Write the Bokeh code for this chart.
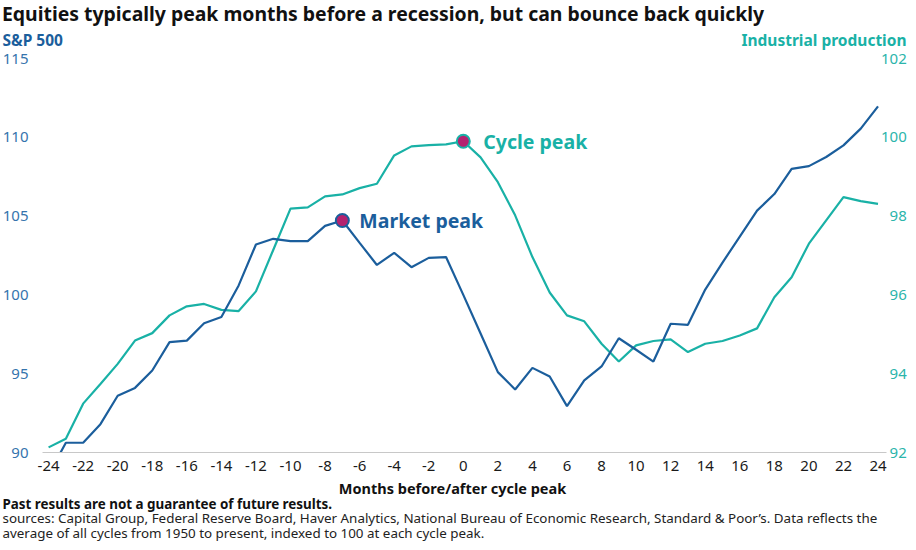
from bokeh.plotting import figure
from bokeh.models import Range1d, LinearAxis, Label, FixedTicker, BoxAnnotation
from bokeh.embed import file_html
from bokeh.resources import INLINE

# ---------------- data ----------------
months = list(range(-24, 25))
sp500 = [88.6, 90.62, 90.62, 91.8, 93.6, 94.1, 95.2, 97.0, 97.1, 98.2, 98.6, 100.6,
         103.2, 103.56, 103.41, 103.41, 104.38, 104.72, 103.3, 101.9, 102.67, 101.76, 102.35, 102.4,
         100.0,
         97.55, 95.1, 94.0, 95.37, 94.82, 92.94, 94.57, 95.46, 97.25, 96.52, 95.77, 98.17,
         98.10, 100.34, 102.05, 103.7, 105.35, 106.4, 108.0, 108.17, 108.75, 109.49, 110.55, 111.96]
ind_prod = [92.13, 92.35, 93.24, 93.74, 94.25, 94.84, 95.03, 95.48, 95.71, 95.77, 95.62, 95.59,
            96.09, 97.14, 98.19, 98.22, 98.50, 98.55, 98.71, 98.82, 99.54, 99.77, 99.80, 99.82,
            99.9,
            99.49, 98.86, 98.02, 96.96, 96.06, 95.48, 95.33, 94.76, 94.31, 94.72, 94.83, 94.87,
            94.55, 94.76, 94.83, 94.97, 95.15, 95.94, 96.45, 97.30, 97.89, 98.48, 98.38, 98.31]
x_ticks = list(range(-24, 25, 2))
x_tick_labels = [str(t) for t in x_ticks]
sp_ticks = [90, 95, 100, 105, 110, 115]
ip_ticks = [92, 94, 96, 98, 100, 102]
market_peak_month = -7
cycle_peak_month = 0

title_text = "Equities typically peak months before a recession, but can bounce back quickly"
left_title = "S&P 500"
right_title = "Industrial production"
x_title = "Months before/after cycle peak"
note1 = "Past results are not a guarantee of future results."
note2 = ("sources: Capital Group, Federal Reserve Board, Haver Analytics, National Bureau of "
         "Economic Research, Standard & Poor\u2019s. Data reflects the")
note3 = "average of all cycles from 1950 to present, indexed to 100 at each cycle peak."

# ---------------- style / layout (pixels) ----------------
BLUE = "#1b5e9c"
BLUE_TICK = "#3574ad"
TEAL = "#19b1a6"
TEAL_TICK = "#2cb5ab"
MAG = "#b3226f"
FONT = "Noto Sans"
W, H = 908, 542
PX0, PXM = 462.8, 17.28               # pixel x of month 0, pixels per month
PY_BASE, PYL, PYR = 452, 15.76, 39.4  # pixel y of axis base, px per S&P unit, px per IP unit
FRAME_L, FRAME_R = 42, 886            # extent of the base line
TICK_PX = 15
DIGIT_W = 0.572 * TICK_PX             # width of one digit in the tick font


def px_to_month(px):
    return (px - PX0) / PXM


p = figure(width=W, height=H, output_backend="svg", toolbar_location=None,
           x_range=Range1d(px_to_month(0), px_to_month(W)),
           y_range=Range1d(sp_ticks[0] - (H - PY_BASE) / PYL, sp_ticks[0] + PY_BASE / PYL),
           min_border=0, min_border_left=0, min_border_right=0,
           min_border_top=0, min_border_bottom=0)
p.extra_y_ranges = {"ip": Range1d(ip_ticks[0] - (H - PY_BASE) / PYR, ip_ticks[0] + PY_BASE / PYR)}
p.outline_line_color = None
p.xgrid.visible = False
p.ygrid.visible = False
p.title.visible = False
p.background_fill_color = "white"
p.border_fill_color = "white"


def plain(ax, color):
    ax.major_tick_line_color = None
    ax.minor_tick_line_color = None
    ax.major_tick_out = 0
    ax.major_tick_in = 0
    ax.minor_tick_out = 0
    ax.minor_tick_in = 0
    ax.major_label_text_font = FONT
    ax.major_label_text_font_size = f"{TICK_PX}px"
    ax.major_label_text_color = color


# x axis at the base of the chart
xa = p.xaxis[0]
xa.fixed_location = sp_ticks[0]
xa.bounds = (px_to_month(FRAME_L), px_to_month(FRAME_R))
xa.ticker = FixedTicker(ticks=x_ticks)
xa.major_label_overrides = dict(zip(x_ticks, x_tick_labels))
xa.axis_line_color = "#c8c8c8"
xa.axis_line_width = 1
plain(xa, "#1a1a1a")
xa.major_label_standoff = 8

# left axis (S&P 500)
ya = p.yaxis[0]
ya.fixed_location = px_to_month(30)
ya.ticker = FixedTicker(ticks=sp_ticks)
ya.axis_line_color = None
plain(ya, BLUE_TICK)
ya.major_label_standoff = 2

# right axis (Industrial production): two-digit and three-digit labels are set so they end flush
ip_short = [t for t in ip_ticks if t < 100]
ip_long = [t for t in ip_ticks if t >= 100]
for ticks, loc in ((ip_long, 879.5), (ip_short, 879.5 + DIGIT_W)):
    ra = LinearAxis(y_range_name="ip", ticker=FixedTicker(ticks=ticks))
    ra.fixed_location = px_to_month(loc)
    ra.axis_line_color = None
    plain(ra, TEAL_TICK)
    ra.major_label_standoff = 1
    p.add_layout(ra, "right")

# series
p.line(months, ind_prod, color=TEAL, line_width=2.2, y_range_name="ip")
p.line(months, sp500, color=BLUE, line_width=2.2)

# hide whatever falls below the chart's base (values under the axis minimum)
mask = BoxAnnotation(top=sp_ticks[0], fill_color="white", fill_alpha=1.0,
                     line_color=None, level="glyph")
p.renderers.append(mask)

# peak markers
mi = months.index(market_peak_month)
ci = months.index(cycle_peak_month)
p.scatter([months[mi]], [sp500[mi]], size=13, fill_color=MAG, line_color=BLUE, line_width=2)
p.scatter([months[ci]], [ind_prod[ci]], size=13, fill_color=MAG, line_color=TEAL, line_width=2,
          y_range_name="ip")

p.add_layout(Label(x=months[mi], y=sp500[mi], x_offset=17, text="Market peak",
                   text_font=FONT, text_font_size="19.5px", text_font_style="bold",
                   text_color=BLUE, text_baseline="middle"))
p.add_layout(Label(x=months[ci], y=ind_prod[ci], y_range_name="ip", x_offset=20, text="Cycle peak",
                   text_font=FONT, text_font_size="19.5px", text_font_style="bold",
                   text_color=TEAL, text_baseline="middle"))


def txt(text, px, py, size, color, bold=False, align="left"):
    p.add_layout(Label(x=px, y=H - py, x_units="screen", y_units="screen", text=text,
                       text_font=FONT, text_font_size=size, text_color=color,
                       text_font_style="bold" if bold else "normal",
                       text_align=align, text_baseline="middle"))


txt(title_text, 1.5, 13, "19.4px", "#111111", bold=True)
txt(left_title, 2, 39, "15.5px", BLUE, bold=True)
txt(right_title, 906, 39, "15.5px", TEAL, bold=True, align="right")
txt(x_title, 452, 487, "14.5px", "#111111", bold=True, align="center")
txt(note1, 2, 503, "13.4px", "#111111", bold=True)
txt(note2, 2, 517.5, "13.4px", "#222222")
txt(note3, 2, 532, "13.4px", "#222222")

open("out.html", "w").write(file_html(p, INLINE))
